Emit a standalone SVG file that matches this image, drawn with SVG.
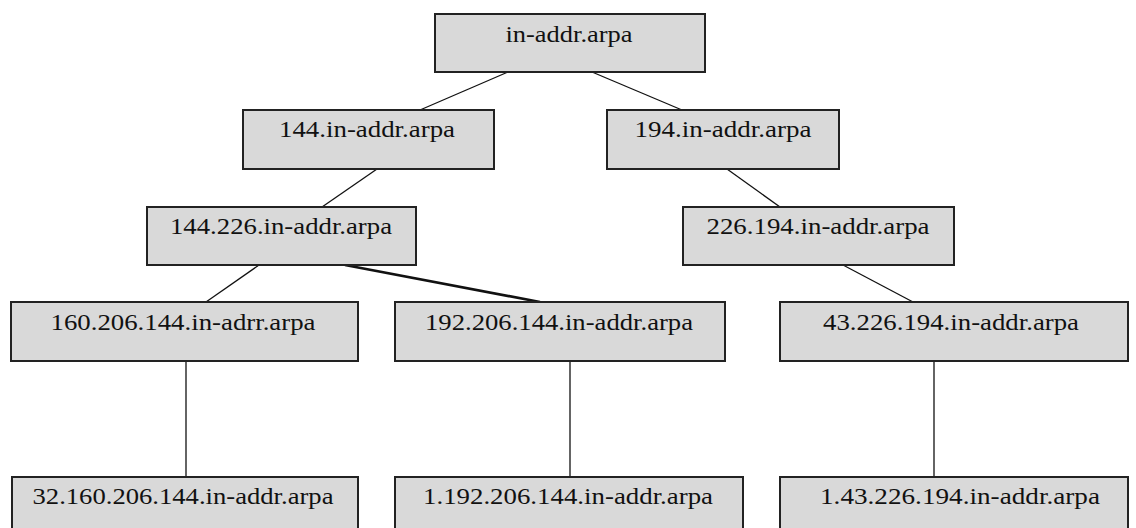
<svg xmlns="http://www.w3.org/2000/svg" width="1136" height="528" viewBox="0 0 1136 528">
<style>
  .box { fill: #d9d9d9; stroke: #222; stroke-width: 2; }
  .lbl { font-family: 'Liberation Serif', 'Times New Roman', serif; font-size: 24px; fill: #111; text-anchor: middle; }
  .edge { stroke: #111; stroke-width: 1.3; fill: none; }
  .edge.thick { stroke-width: 2.6; }
</style>
<rect width="1136" height="528" fill="#ffffff"/>
<g id="connectors">
  <line class="edge" x1="508" y1="72" x2="420" y2="110"/>
  <line class="edge" x1="592" y1="72" x2="682" y2="110"/>
  <line class="edge" x1="377" y1="169" x2="322" y2="207"/>
  <line class="edge" x1="727" y1="169" x2="780" y2="207"/>
  <line class="edge" x1="259" y1="265" x2="206" y2="302"/>
  <line class="edge thick" x1="345" y1="265" x2="540" y2="302"/>
  <line class="edge" x1="843" y1="265" x2="913" y2="302"/>
  <line class="edge" x1="186" y1="361" x2="186" y2="477"/>
  <line class="edge" x1="570" y1="361" x2="570" y2="477"/>
  <line class="edge" x1="934" y1="361" x2="934" y2="477"/>
</g>
<g id="n-root">
  <rect class="box" x="435" y="14" width="270" height="58"/>
  <text class="lbl" x="569" y="42" textLength="127" lengthAdjust="spacingAndGlyphs">in-addr.arpa</text>
</g>
<g id="n-144">
  <rect class="box" x="243" y="110" width="251" height="59"/>
  <text class="lbl" x="367" y="137" textLength="176" lengthAdjust="spacingAndGlyphs">144.in-addr.arpa</text>
</g>
<g id="n-194">
  <rect class="box" x="607" y="110" width="232" height="59"/>
  <text class="lbl" x="723" y="137" textLength="177" lengthAdjust="spacingAndGlyphs">194.in-addr.arpa</text>
</g>
<g id="n-144-226">
  <rect class="box" x="147" y="207" width="269" height="58"/>
  <text class="lbl" x="281" y="234" textLength="222" lengthAdjust="spacingAndGlyphs">144.226.in-addr.arpa</text>
</g>
<g id="n-226-194">
  <rect class="box" x="683" y="207" width="271" height="58"/>
  <text class="lbl" x="818" y="234" textLength="223" lengthAdjust="spacingAndGlyphs">226.194.in-addr.arpa</text>
</g>
<g id="n-160-206-144">
  <rect class="box" x="11" y="302" width="347" height="59"/>
  <text class="lbl" x="183" y="330" textLength="265" lengthAdjust="spacingAndGlyphs">160.206.144.in-adrr.arpa</text>
</g>
<g id="n-192-206-144">
  <rect class="box" x="395" y="302" width="330" height="59"/>
  <text class="lbl" x="559" y="330" textLength="268" lengthAdjust="spacingAndGlyphs">192.206.144.in-addr.arpa</text>
</g>
<g id="n-43-226-194">
  <rect class="box" x="780" y="302" width="348" height="59"/>
  <text class="lbl" x="951" y="330" textLength="256" lengthAdjust="spacingAndGlyphs">43.226.194.in-addr.arpa</text>
</g>
<g id="n-32-160-206-144">
  <rect class="box" x="12" y="477" width="346" height="62"/>
  <text class="lbl" x="183" y="504" textLength="301" lengthAdjust="spacingAndGlyphs">32.160.206.144.in-addr.arpa</text>
</g>
<g id="n-1-192-206-144">
  <rect class="box" x="395" y="477" width="348" height="62"/>
  <text class="lbl" x="568" y="504" textLength="290" lengthAdjust="spacingAndGlyphs">1.192.206.144.in-addr.arpa</text>
</g>
<g id="n-1-43-226-194">
  <rect class="box" x="780" y="477" width="348" height="62"/>
  <text class="lbl" x="960" y="504" textLength="280" lengthAdjust="spacingAndGlyphs">1.43.226.194.in-addr.arpa</text>
</g>
</svg>
